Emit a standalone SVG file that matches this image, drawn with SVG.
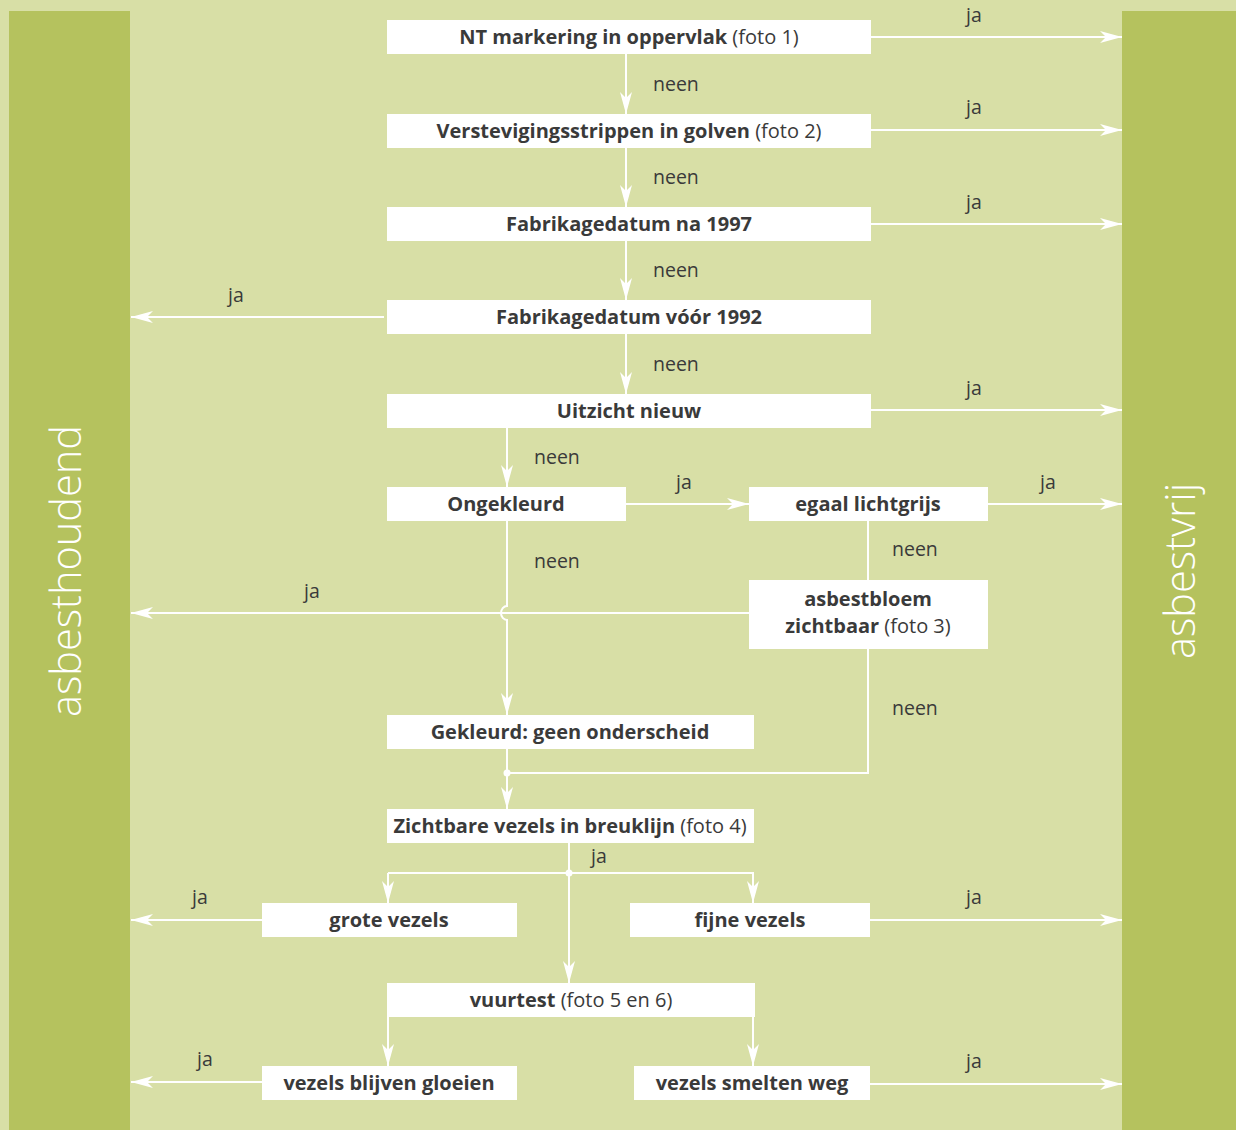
<svg xmlns="http://www.w3.org/2000/svg" width="1236" height="1130" viewBox="0 0 1236 1130">
<style>
.box{fill:#ffffff}
.t{font-family:"Open Sans","Noto Sans",sans-serif;font-size:20px;fill:#3a3a3a;text-anchor:middle}
.b{font-weight:bold}
.r{font-weight:normal}
.lb{font-family:"Open Sans","Noto Sans",sans-serif;font-size:19.5px;fill:#3a3a3a}
.ln{fill:none;stroke:#ffffff;stroke-width:2}
.side{font-family:"Open Sans","Noto Sans",sans-serif;font-size:41.5px;font-weight:300;fill:#ffffff;text-anchor:middle}
</style>
<defs>
<marker id="ah" markerUnits="userSpaceOnUse" markerWidth="24" markerHeight="14" refX="22" refY="7" orient="auto" overflow="visible">
<path d="M0,1 L22,7 L0,13 L6,7 Z" fill="#ffffff"/>
</marker>
</defs>
<rect x="0" y="0" width="1236" height="1130" fill="#d8dfa6"/>
<g id="asbesthoudend">
<rect x="9" y="11" width="121" height="1119" fill="#b5c25e"/>
<text class="side" transform="translate(81,571) rotate(-90)">asbesthoudend</text>
</g>
<g id="asbestvrij">
<rect x="1122" y="11" width="114" height="1119" fill="#b5c25e"/>
<text class="side" transform="translate(1195,571) rotate(-90)">asbestvrij</text>
</g>

<g id="connectors">
<path class="ln" marker-end="url(#ah)" d="M626,54 V114"/>
<path class="ln" marker-end="url(#ah)" d="M626,148 V207"/>
<path class="ln" marker-end="url(#ah)" d="M626,241 V300"/>
<path class="ln" marker-end="url(#ah)" d="M626,334 V394"/>
<path class="ln" marker-end="url(#ah)" d="M871,37 H1122"/>
<path class="ln" marker-end="url(#ah)" d="M871,130 H1122"/>
<path class="ln" marker-end="url(#ah)" d="M871,224 H1122"/>
<path class="ln" marker-end="url(#ah)" d="M384,317 H131"/>
<path class="ln" marker-end="url(#ah)" d="M871,410 H1122"/>
<path class="ln" marker-end="url(#ah)" d="M507,428 V487"/>
<path class="ln" marker-end="url(#ah)" d="M626,504 H749"/>
<path class="ln" marker-end="url(#ah)" d="M988,504 H1122"/>
<path class="ln" d="M868,521 V580"/>
<path class="ln" marker-end="url(#ah)" d="M749,613 H131"/>
<path class="ln" marker-end="url(#ah)" d="M507,521 V606 A6,7 0 0 0 507,620 V715"/>
<path class="ln" d="M868,649 V773 H507"/>
<path class="ln" marker-end="url(#ah)" d="M507,749 V809"/>
<circle cx="507" cy="773" r="3.5" fill="#ffffff"/>
<path class="ln" marker-end="url(#ah)" d="M569,843 V983"/>
<path class="ln" marker-end="url(#ah)" d="M388,873 H753 V903"/>
<path class="ln" marker-end="url(#ah)" d="M388,873 V903"/>
<circle cx="569" cy="873" r="3.5" fill="#ffffff"/>
<path class="ln" marker-end="url(#ah)" d="M262,920 H131"/>
<path class="ln" marker-end="url(#ah)" d="M870,920 H1122"/>
<path class="ln" marker-end="url(#ah)" d="M388,1017 V1066"/>
<path class="ln" marker-end="url(#ah)" d="M753,1017 V1066"/>
<path class="ln" marker-end="url(#ah)" d="M262,1082 H131"/>
<path class="ln" marker-end="url(#ah)" d="M870,1084 H1122"/>
<text class="lb" x="966" y="22">ja</text>
<text class="lb" x="966" y="114">ja</text>
<text class="lb" x="966" y="209">ja</text>
<text class="lb" x="966" y="395">ja</text>
<text class="lb" x="653" y="91">neen</text>
<text class="lb" x="653" y="184">neen</text>
<text class="lb" x="653" y="277">neen</text>
<text class="lb" x="653" y="371">neen</text>
<text class="lb" x="228" y="302">ja</text>
<text class="lb" x="534" y="464">neen</text>
<text class="lb" x="676" y="489">ja</text>
<text class="lb" x="1040" y="489">ja</text>
<text class="lb" x="892" y="556">neen</text>
<text class="lb" x="534" y="568">neen</text>
<text class="lb" x="304" y="598">ja</text>
<text class="lb" x="892" y="715">neen</text>
<text class="lb" x="591" y="863">ja</text>
<text class="lb" x="192" y="904">ja</text>
<text class="lb" x="966" y="904">ja</text>
<text class="lb" x="197" y="1066">ja</text>
<text class="lb" x="966" y="1068">ja</text>
</g>

<g id="n1"><rect class="box" x="387" y="20" width="484" height="34"/><text class="t" x="629" y="44"><tspan class="b">NT markering in oppervlak</tspan><tspan class="r"> (foto 1)</tspan></text></g>
<g id="n2"><rect class="box" x="387" y="114" width="484" height="34"/><text class="t" x="629" y="138"><tspan class="b">Verstevigingsstrippen in golven</tspan><tspan class="r"> (foto 2)</tspan></text></g>
<g id="n3"><rect class="box" x="387" y="207" width="484" height="34"/><text class="t b" x="629" y="231">Fabrikagedatum na 1997</text></g>
<g id="n4"><rect class="box" x="387" y="300" width="484" height="34"/><text class="t b" x="629" y="324">Fabrikagedatum vóór 1992</text></g>
<g id="n5"><rect class="box" x="387" y="394" width="484" height="34"/><text class="t b" x="629" y="418">Uitzicht nieuw</text></g>
<g id="n6"><rect class="box" x="387" y="487" width="239" height="34"/><text class="t b" x="506" y="511">Ongekleurd</text></g>
<g id="n7"><rect class="box" x="749" y="487" width="239" height="34"/><text class="t b" x="868" y="511">egaal lichtgrijs</text></g>
<g id="n8"><rect class="box" x="749" y="580" width="239" height="69"/><text class="t b" x="868" y="606">asbestbloem</text><text class="t" x="868" y="633"><tspan class="b">zichtbaar</tspan><tspan class="r"> (foto 3)</tspan></text></g>
<g id="n9"><rect class="box" x="387" y="715" width="367" height="34"/><text class="t b" x="570" y="739">Gekleurd: geen onderscheid</text></g>
<g id="n10"><rect class="box" x="387" y="809" width="367" height="34"/><text class="t" x="570" y="833"><tspan class="b">Zichtbare vezels in breuklijn</tspan><tspan class="r"> (foto 4)</tspan></text></g>
<g id="n11"><rect class="box" x="262" y="903" width="255" height="34"/><text class="t b" x="389" y="927">grote vezels</text></g>
<g id="n12"><rect class="box" x="630" y="903" width="240" height="34"/><text class="t b" x="750" y="927">fijne vezels</text></g>
<g id="n13"><rect class="box" x="387" y="983" width="368" height="34"/><text class="t" x="571" y="1007"><tspan class="b">vuurtest</tspan><tspan class="r"> (foto 5 en 6)</tspan></text></g>
<g id="n14"><rect class="box" x="262" y="1066" width="255" height="34"/><text class="t b" x="389" y="1090">vezels blijven gloeien</text></g>
<g id="n15"><rect class="box" x="634" y="1066" width="236" height="34"/><text class="t b" x="752" y="1090">vezels smelten weg</text></g>
</svg>
